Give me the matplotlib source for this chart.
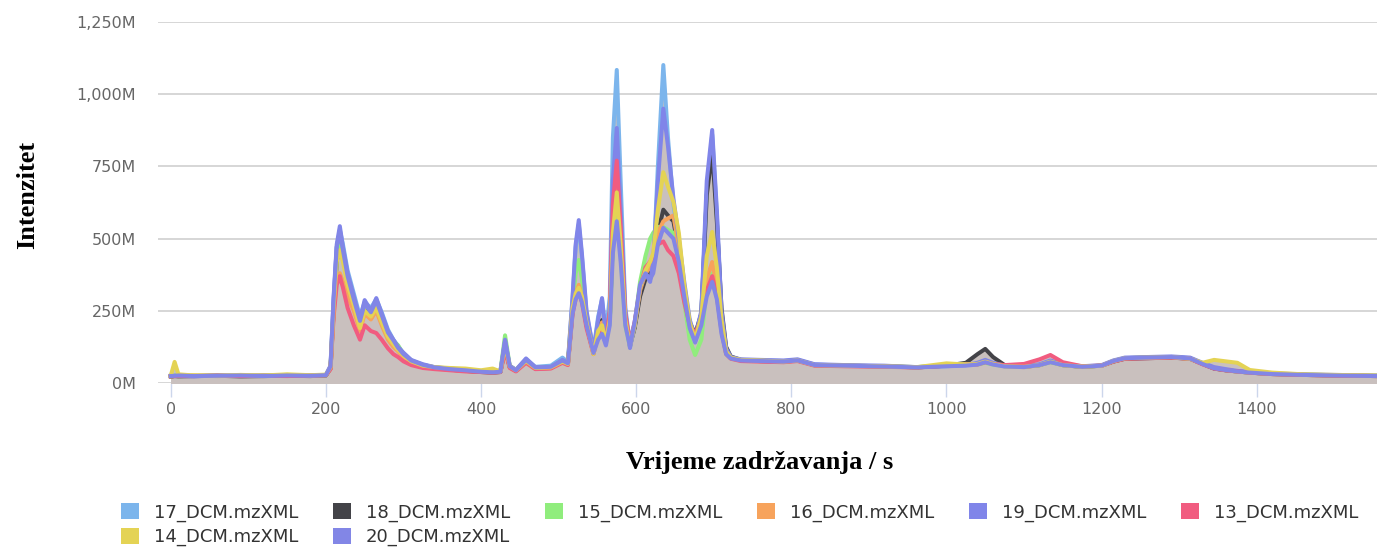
import matplotlib
matplotlib.use("Agg")
import numpy as np
from matplotlib import pyplot as plt
from matplotlib.patches import Patch
from matplotlib.ticker import FuncFormatter

# retention time (s), shared by all runs
time_s = [
    0, 5, 10, 30, 60, 90, 120, 150, 180, 200,
    206, 210, 214, 218, 222, 228, 236, 244, 250, 258,
    265, 272, 280, 287, 293, 300, 310, 325, 340, 360,
    380, 400, 415, 425, 431, 437, 445, 458, 470, 490,
    505, 512, 518, 522, 526, 530, 536, 545, 551, 556,
    561, 566, 570, 575, 580, 586, 592, 598, 605, 612,
    618, 622, 628, 635, 641, 648, 655, 662, 669, 676,
    684, 691, 698, 704, 710, 716, 722, 735, 760, 790,
    808, 830, 870, 920, 962, 1000, 1025, 1040, 1050, 1060,
    1075, 1100, 1120, 1134, 1150, 1175, 1200, 1215, 1230, 1260,
    1290, 1314, 1330, 1345, 1360, 1375, 1391, 1420, 1460, 1500,
    1555,
]

# intensity in millions, one list per run
run_17 = [
    24, 26, 24, 25, 24, 26, 25, 27, 25, 27,
    55, 280, 470, 530, 480, 390, 310, 230, 280, 260,
    290, 245, 185, 150, 128, 100, 78, 62, 55, 48,
    44, 40, 37, 40, 140, 58, 46, 82, 56, 60,
    88, 72, 290, 470, 550, 440, 240, 115, 230, 290,
    170, 300, 850, 1084, 700, 260, 140, 210, 320, 370,
    360, 400, 750, 1101, 850, 620, 480, 330, 210, 160,
    240, 660, 860, 580, 240, 115, 88, 80, 78, 76,
    80, 64, 60, 58, 55, 58, 62, 66, 74, 66,
    58, 56, 62, 74, 62, 57, 60, 76, 86, 89,
    90, 86, 68, 52, 46, 40, 36, 32, 29, 27,
    25,
]
run_18 = [
    22, 24, 23, 24, 25, 23, 24, 25, 24, 26,
    50, 250, 420, 500, 450, 360, 280, 210, 260, 240,
    270, 220, 170, 140, 120, 95, 75, 60, 52, 46,
    42, 38, 36, 38, 120, 55, 42, 75, 50, 52,
    75, 65, 250, 300, 330, 300, 200, 105, 190, 218,
    150, 220, 500, 640, 480, 220, 130, 190, 300, 360,
    380, 420, 520, 600, 580, 560, 460, 320, 210, 170,
    240, 650, 800, 560, 260, 125, 92, 80, 76, 74,
    78, 62, 60, 58, 54, 60, 70, 100, 118, 90,
    62, 56, 62, 74, 62, 56, 60, 74, 84, 86,
    88, 84, 66, 50, 44, 40, 36, 31, 28, 26,
    24,
]
run_15 = [
    23, 26, 24, 25, 27, 24, 26, 28, 25, 27,
    52, 260, 430, 480, 430, 350, 290, 200, 270, 250,
    280, 230, 175, 145, 131, 100, 78, 62, 54, 50,
    46, 42, 40, 42, 165, 60, 44, 80, 52, 55,
    76, 68, 270, 380, 426, 360, 220, 100, 180, 200,
    140, 210, 480, 600, 440, 200, 125, 200, 350, 440,
    500, 520, 540, 540, 530, 520, 430, 280, 150, 97,
    150, 330, 380, 300, 180, 100, 85, 78, 76, 74,
    78, 62, 60, 57, 55, 62, 66, 64, 70, 64,
    58, 56, 62, 72, 62, 56, 60, 76, 86, 88,
    90, 85, 67, 52, 45, 40, 36, 32, 29, 27,
    25,
]
run_16 = [
    24, 25, 24, 26, 24, 25, 24, 26, 25, 27,
    50, 240, 360, 380, 350, 300, 250, 180, 240, 220,
    250, 200, 150, 125, 110, 90, 72, 58, 50, 46,
    43, 39, 37, 39, 120, 55, 42, 72, 50, 52,
    72, 64, 250, 310, 340, 300, 200, 100, 180, 210,
    140, 230, 560, 700, 500, 230, 135, 200, 320, 380,
    400, 430, 520, 560, 570, 580, 470, 320, 200, 150,
    220, 360, 419, 330, 200, 105, 86, 78, 76, 73,
    78, 62, 60, 57, 54, 60, 64, 66, 74, 66,
    58, 55, 62, 74, 62, 56, 60, 75, 85, 88,
    89, 84, 66, 52, 45, 40, 36, 31, 28, 26,
    24,
]
run_19 = [
    25, 24, 25, 23, 26, 24, 27, 25, 26, 28,
    60, 300, 480, 543, 470, 380, 300, 220, 287, 250,
    294, 240, 180, 150, 125, 105, 80, 65, 55, 50,
    45, 40, 38, 40, 150, 60, 45, 85, 55, 55,
    80, 70, 300, 480, 564, 450, 250, 110, 220, 294,
    160, 250, 700, 883, 600, 250, 121, 200, 330, 380,
    350, 420, 700, 950, 820, 640, 500, 350, 220, 156,
    250, 700, 876, 600, 250, 120, 90, 82, 80, 78,
    82, 65, 62, 60, 55, 60, 62, 70, 80, 70,
    60, 58, 65, 78, 65, 58, 62, 78, 88, 90,
    92, 88, 70, 55, 48, 42, 38, 33, 30, 28,
    26,
]
run_13 = [
    23, 24, 25, 24, 26, 24, 25, 24, 26, 27,
    48, 230, 340, 370, 330, 260, 200, 150, 200, 180,
    173, 150, 120, 100, 90, 75, 62, 52, 48, 44,
    40, 38, 36, 38, 110, 52, 40, 70, 48, 50,
    70, 62, 240, 290, 320, 280, 190, 100, 170, 190,
    140, 250, 620, 770, 540, 240, 140, 210, 330, 400,
    420, 440, 480, 490, 460, 440, 380, 280, 200, 170,
    220, 320, 370, 300, 180, 100, 84, 76, 74, 72,
    76, 60, 58, 56, 54, 60, 64, 64, 72, 66,
    62, 66, 82, 97, 72, 58, 60, 74, 84, 86,
    88, 84, 65, 50, 44, 40, 36, 31, 28, 26,
    24,
]
run_14 = [
    25, 73, 30, 26, 25, 28, 26, 30, 27, 29,
    55, 260, 420, 460, 420, 340, 270, 190, 250, 230,
    260, 210, 160, 135, 115, 95, 75, 60, 55, 52,
    50, 44, 50, 40, 130, 58, 44, 76, 52, 54,
    74, 66, 260, 310, 330, 300, 210, 100, 180, 200,
    140, 220, 520, 660, 480, 220, 130, 200, 330, 390,
    420, 450, 600, 730, 680, 627, 520, 340, 210, 150,
    230, 440, 523, 400, 220, 110, 88, 80, 78, 74,
    78, 62, 60, 58, 55, 68, 64, 66, 74, 66,
    58, 56, 62, 74, 62, 57, 60, 76, 86, 88,
    90, 84, 70, 80, 75, 70, 45, 36, 30, 28,
    26,
]
run_20 = [
    24, 25, 26, 24, 25, 26, 24, 26, 25, 27,
    58, 290, 470, 520, 460, 370, 290, 215, 275, 245,
    285, 235, 175, 148, 122, 100, 78, 63, 54, 48,
    44, 39, 37, 39, 145, 58, 44, 80, 54, 56,
    78, 68, 240, 290, 311, 280, 200, 104, 150, 170,
    130, 200, 450, 560, 420, 200, 125, 210, 340, 380,
    360, 380, 480, 537, 520, 500, 420, 300, 190, 140,
    200, 300, 350, 290, 170, 100, 85, 78, 76, 74,
    78, 62, 60, 57, 54, 58, 60, 64, 72, 64,
    57, 55, 62, 72, 62, 56, 60, 76, 86, 88,
    90, 85, 66, 51, 45, 40, 36, 31, 28, 26,
    24,
]

names = ["17_DCM.mzXML", "18_DCM.mzXML", "15_DCM.mzXML", "16_DCM.mzXML",
         "19_DCM.mzXML", "13_DCM.mzXML", "14_DCM.mzXML", "20_DCM.mzXML"]
runs = [run_17, run_18, run_15, run_16, run_19, run_13, run_14, run_20]
colors = ["#7cb5ec", "#434348", "#90ed7d", "#f7a35c",
          "#8085e9", "#f15c80", "#e4d354", "#8286e6"]

fig = plt.figure(figsize=(13.77, 5.53), dpi=100)
ax = fig.add_axes([158 / 1377, 170 / 553, 1219 / 1377, 361 / 553])

t = np.array(time_s)

# grey area under the traces
for vals in runs:
    ax.fill_between(t, 0, vals, color="#c9c0be", lw=0, zorder=1)

for vals, c in zip(runs, colors):
    ax.plot(t, vals, color=c, lw=2.9, zorder=3, solid_joinstyle="round")

ax.set_xlim(-16.4, 1555)
ax.set_ylim(0, 1250)
ax.set_xticks([0, 200, 400, 600, 800, 1000, 1200, 1400])
ax.set_yticks([0, 250, 500, 750, 1000, 1250])
ax.yaxis.set_major_formatter(FuncFormatter(lambda v, p: f"{v:,.0f}M"))

for s in ax.spines.values():
    s.set_visible(False)
ax.grid(axis="y", color="#cfcfcf", lw=1.2, zorder=0)
ax.set_axisbelow(True)
ax.tick_params(axis="y", length=0, pad=16, labelsize=11.5, labelcolor="#666666")
ax.tick_params(axis="x", length=10, width=1, color="#ccd6eb", pad=4,
               labelsize=11.5, labelcolor="#666666")

fig.text(28 / 1377, 1 - 195 / 553, "Intenzitet", rotation=90,
         ha="center", va="center", fontsize=19, fontweight="bold",
         family="Liberation Serif")
fig.text(760 / 1377, 1 - 463 / 553, "Vrijeme zadržavanja / s",
         ha="center", va="center", fontsize=19, fontweight="bold",
         family="Liberation Serif")

# legend goes row by row, matplotlib fills columns, so reorder
order = [0, 6, 1, 7, 2, 3, 4, 5]
handles = [Patch(facecolor=colors[i], edgecolor="none") for i in order]
labels = [names[i] for i in order]
fig.legend(handles, labels, ncol=6, loc="upper left",
           bbox_to_anchor=(121 / 1377, 1 - 503 / 553), frameon=False,
           fontsize=13, handlelength=1.0, handleheight=1.0,
           handletextpad=0.8, columnspacing=1.95, labelspacing=0.35,
           borderpad=0, borderaxespad=0, labelcolor="#333333")

plt.savefig("out.png", dpi=100)
